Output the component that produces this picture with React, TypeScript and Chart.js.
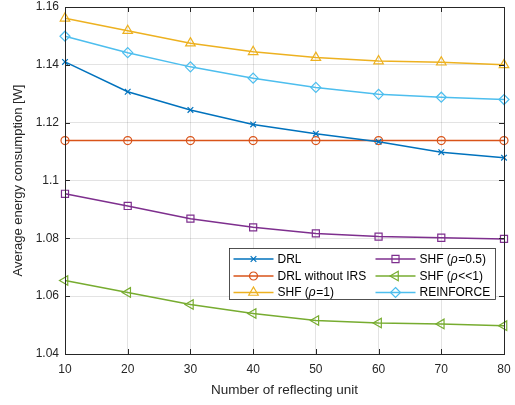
import React, { useEffect, useRef } from "react";
import { Chart, registerables } from "chart.js";

Chart.register(...registerables);

const xValues = [10, 20, 30, 40, 50, 60, 70, 80];
const drl = [1.141, 1.1307, 1.1244, 1.1194, 1.1162, 1.1134, 1.1098, 1.1079];
const drlNoIrs = [1.1138, 1.1138, 1.1138, 1.1138, 1.1138, 1.1138, 1.1138, 1.1138];
const shf1 = [1.1561, 1.1518, 1.1475, 1.1445, 1.1425, 1.1413, 1.1409, 1.14];
const shf05 = [1.0954, 1.0912, 1.0868, 1.0838, 1.0817, 1.0806, 1.0802, 1.0798];
const shfSmall = [1.0654, 1.0613, 1.0571, 1.054, 1.0516, 1.0507, 1.0504, 1.0498];
const reinforce = [1.1499, 1.1442, 1.1393, 1.1354, 1.1322, 1.1298, 1.1288, 1.128];
const yTicks = [1.04, 1.06, 1.08, 1.1, 1.12, 1.14, 1.16];

const AX = "#262626";
const FONT = "'Liberation Sans', Arial, sans-serif";

type Seg = { t: string; italic?: boolean };
const legendLabels: Seg[][] = [
  [{ t: "DRL" }],
  [{ t: "DRL without IRS" }],
  [{ t: "SHF (" }, { t: "\u03c1", italic: true }, { t: "=1)" }],
  [{ t: "SHF (" }, { t: "\u03c1", italic: true }, { t: "=0.5)" }],
  [{ t: "SHF (" }, { t: "\u03c1", italic: true }, { t: "<<1)" }],
  [{ t: "REINFORCE" }],
];

function drawMarker(ctx: any, style: string, x: number, y: number, r: number, rot: number, color: string) {
  ctx.save();
  ctx.strokeStyle = color;
  ctx.lineWidth = 1.2;
  ctx.translate(x, y);
  ctx.rotate((rot * Math.PI) / 180);
  ctx.beginPath();
  if (style === "circle") {
    ctx.arc(0, 0, r, 0, Math.PI * 2);
  } else if (style === "crossRot") {
    const d = r * Math.SQRT1_2;
    ctx.moveTo(-d, -d);
    ctx.lineTo(d, d);
    ctx.moveTo(-d, d);
    ctx.lineTo(d, -d);
  } else if (style === "rect") {
    const d = r * Math.SQRT1_2;
    ctx.rect(-d, -d, 2 * d, 2 * d);
  } else if (style === "rectRot") {
    ctx.moveTo(0, -r);
    ctx.lineTo(r, 0);
    ctx.lineTo(0, r);
    ctx.lineTo(-r, 0);
    ctx.closePath();
  } else if (style === "triangle") {
    for (let k = 0; k < 3; k++) {
      const ang = (k * 2 * Math.PI) / 3;
      const px = Math.sin(ang) * r;
      const py = -Math.cos(ang) * r;
      if (k === 0) ctx.moveTo(px, py);
      else ctx.lineTo(px, py);
    }
    ctx.closePath();
  }
  ctx.stroke();
  ctx.restore();
}

const boxPlugin = {
  id: "matlabBox",
  afterDraw(chart: any) {
    const { ctx, chartArea: a, scales } = chart;
    const xs = scales.x;
    const ys = scales.y;
    ctx.save();
    ctx.strokeStyle = AX;
    ctx.lineWidth = 1;
    ctx.beginPath();
    const tl = 5;
    xValues.forEach((v) => {
      const px = Math.round(xs.getPixelForValue(v)) + 0.5;
      ctx.moveTo(px, a.bottom);
      ctx.lineTo(px, a.bottom - tl);
      ctx.moveTo(px, a.top);
      ctx.lineTo(px, a.top + tl);
    });
    yTicks.forEach((v) => {
      const py = Math.round(ys.getPixelForValue(v)) + 0.5;
      ctx.moveTo(a.left, py);
      ctx.lineTo(a.left + tl, py);
      ctx.moveTo(a.right, py);
      ctx.lineTo(a.right - tl, py);
    });
    ctx.stroke();
    ctx.strokeRect(Math.round(a.left) + 0.5, Math.round(a.top) + 0.5, Math.round(a.right - a.left), Math.round(a.bottom - a.top));

    // legend
    const bw = 266;
    const bh = 51;
    const bx = Math.round(a.right - 9 - bw) + 0.5;
    const by = Math.round(a.bottom - 55 - bh) + 0.5;
    ctx.fillStyle = "#ffffff";
    ctx.fillRect(bx, by, bw, bh);
    ctx.lineWidth = 0.8;
    ctx.strokeRect(bx, by, bw, bh);
    const datasets = chart.data.datasets;
    const colX = [bx + 4, bx + 146];
    const rowY = [by + 10.5, by + 27.5, by + 44];
    datasets.forEach((ds: any, i: number) => {
      const col = Math.floor(i / 3);
      const row = i % 3;
      const x0 = colX[col];
      const y0 = rowY[row];
      ctx.strokeStyle = ds.borderColor;
      ctx.lineWidth = 1.5;
      ctx.beginPath();
      ctx.moveTo(x0, y0);
      ctx.lineTo(x0 + 40, y0);
      ctx.stroke();
      drawMarker(ctx, ds.pointStyle, x0 + 20, y0, ds.pointRadius, ds.pointRotation || 0, ds.borderColor);
      let tx = x0 + 44;
      ctx.fillStyle = "#000000";
      ctx.textBaseline = "middle";
      ctx.textAlign = "left";
      legendLabels[i].forEach((s) => {
        ctx.font = (s.italic ? "italic " : "") + "12px " + FONT;
        ctx.fillText(s.t, tx, y0 + 0.5);
        tx += ctx.measureText(s.t).width + (s.italic ? 0.5 : 0);
      });
    });
    ctx.restore();
  },
};

function mk(label: string, data: number[], color: string, style: string, radius: number, rotation = 0) {
  return {
    label,
    data: data.map((v, i) => ({ x: xValues[i], y: v })),
    borderColor: color,
    backgroundColor: "rgba(0,0,0,0)",
    pointBackgroundColor: "rgba(0,0,0,0)",
    pointBorderColor: color,
    pointBorderWidth: 1.2,
    borderWidth: 1.5,
    pointStyle: style,
    pointRadius: radius,
    pointRotation: rotation,
    pointHoverRadius: radius,
    tension: 0,
    clip: false as any,
  };
}

export default function App() {
  const ref = useRef<HTMLCanvasElement>(null);
  useEffect(() => {
    document.body.style.margin = "0";
    const chart = new Chart(ref.current as HTMLCanvasElement, {
      type: "line",
      data: {
        datasets: [
          mk("DRL", drl, "#0072BD", "crossRot", 4),
          mk("DRL without IRS", drlNoIrs, "#D95319", "circle", 4),
          mk("SHF (\u03c1=1)", shf1, "#EDB120", "triangle", 5.5),
          mk("SHF (\u03c1=0.5)", shf05, "#7E2F8E", "rect", 5),
          mk("SHF (\u03c1<<1)", shfSmall, "#77AC30", "triangle", 5.5, -90),
          mk("REINFORCE", reinforce, "#4DBEEE", "rectRot", 5),
        ] as any,
      },
      options: {
        animation: false,
        responsive: false,
        layout: { padding: { top: 7, right: 11, left: 0, bottom: 0 } },
        plugins: { legend: { display: false }, tooltip: { enabled: false } },
        scales: {
          x: {
            type: "linear",
            min: 10,
            max: 80,
            afterFit: (s: any) => {
              s.height = 51;
              s.paddingLeft = 0;
              s.paddingRight = 0;
            },
            afterBuildTicks: (s: any) => {
              s.ticks = xValues.map((v) => ({ value: v }));
            },
            ticks: {
              color: AX,
              font: { family: FONT, size: 12 },
              padding: 8,
              maxRotation: 0,
              autoSkip: false,
            },
            grid: { color: "rgba(38,38,38,0.13)", drawTicks: false, lineWidth: 1 },
            border: { display: false },
            title: {
              display: true,
              text: "Number of reflecting unit",
              color: AX,
              font: { family: FONT, size: 13.5 },
              padding: { top: 0, bottom: 7 },
            },
          },
          y: {
            type: "linear",
            min: 1.04,
            max: 1.16,
            afterFit: (s: any) => {
              s.width = 65;
              s.paddingTop = 0;
              s.paddingBottom = 0;
            },
            afterBuildTicks: (s: any) => {
              s.ticks = yTicks.map((v) => ({ value: v }));
            },
            ticks: {
              color: AX,
              font: { family: FONT, size: 12 },
              padding: 6,
              callback: (v: any) => String(Number(Number(v).toFixed(2))),
            },
            grid: { color: "rgba(38,38,38,0.13)", drawTicks: false, lineWidth: 1 },
            border: { display: false },
            title: {
              display: true,
              text: "Average energy consumption [W]",
              color: AX,
              font: { family: FONT, size: 13 },
              padding: { top: 11, bottom: 0 },
            },
          },
        },
      },
      plugins: [boxPlugin],
    });
    return () => chart.destroy();
  }, []);
  return <canvas ref={ref} width={515} height={405} style={{ display: "block" }} />;
}
